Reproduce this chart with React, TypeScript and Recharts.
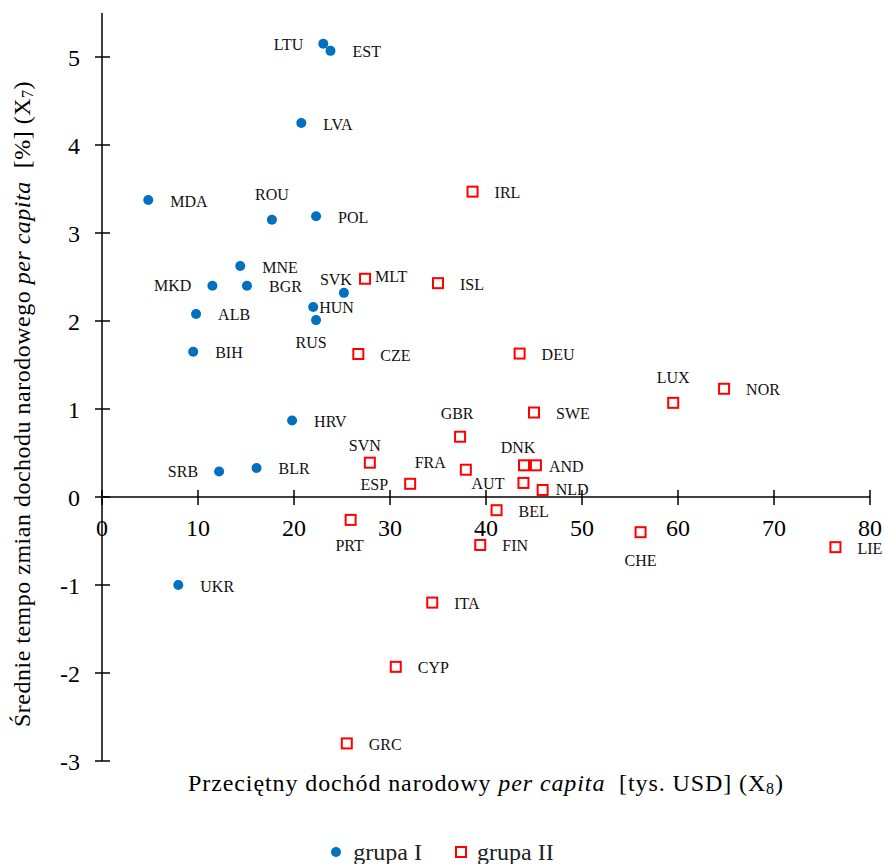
import { ScatterChart, Scatter, XAxis, YAxis, ReferenceLine, Legend } from 'recharts';

// grupa I (kraje Europy Środkowo-Wschodniej), x = dochód [tys. USD], y = tempo zmian [%]
const groupI = [
  { code: 'LTU', x: 23.05, y: 5.15 },
  { code: 'EST', x: 23.8, y: 5.07 },
  { code: 'LVA', x: 20.76, y: 4.25 },
  { code: 'MDA', x: 4.82, y: 3.375 },
  { code: 'ROU', x: 17.7, y: 3.15 },
  { code: 'POL', x: 22.3, y: 3.19 },
  { code: 'MNE', x: 14.4, y: 2.625 },
  { code: 'MKD', x: 11.5, y: 2.4 },
  { code: 'BGR', x: 15.1, y: 2.4 },
  { code: 'SVK', x: 25.2, y: 2.32 },
  { code: 'HUN', x: 22.0, y: 2.16 },
  { code: 'RUS', x: 22.3, y: 2.01 },
  { code: 'ALB', x: 9.8, y: 2.08 },
  { code: 'BIH', x: 9.5, y: 1.65 },
  { code: 'HRV', x: 19.8, y: 0.87 },
  { code: 'SRB', x: 12.2, y: 0.29 },
  { code: 'BLR', x: 16.1, y: 0.33 },
  { code: 'UKR', x: 7.95, y: -1.0 },
];

const groupII = [
  { code: 'IRL', x: 38.6, y: 3.47 },
  { code: 'MLT', x: 27.4, y: 2.48 },
  { code: 'ISL', x: 35.0, y: 2.43 },
  { code: 'CZE', x: 26.7, y: 1.625 },
  { code: 'DEU', x: 43.5, y: 1.63 },
  { code: 'LUX', x: 59.5, y: 1.07 },
  { code: 'NOR', x: 64.8, y: 1.23 },
  { code: 'SWE', x: 45.0, y: 0.96 },
  { code: 'GBR', x: 37.3, y: 0.685 },
  { code: 'SVN', x: 27.9, y: 0.39 },
  { code: 'FRA', x: 37.9, y: 0.31 },
  { code: 'DNK', x: 43.96, y: 0.36 },
  { code: 'AND', x: 45.2, y: 0.36 },
  { code: 'ESP', x: 32.1, y: 0.15 },
  { code: 'AUT', x: 43.9, y: 0.16 },
  { code: 'NLD', x: 45.9, y: 0.08 },
  { code: 'BEL', x: 41.1, y: -0.15 },
  { code: 'PRT', x: 25.9, y: -0.26 },
  { code: 'FIN', x: 39.4, y: -0.545 },
  { code: 'CHE', x: 56.1, y: -0.4 },
  { code: 'LIE', x: 76.4, y: -0.57 },
  { code: 'ITA', x: 34.4, y: -1.2 },
  { code: 'CYP', x: 30.6, y: -1.93 },
  { code: 'GRC', x: 25.5, y: -2.8 },
];

const xTicks = [0, 10, 20, 30, 40, 50, 60, 70, 80];
const yTicks = [-3, -2, -1, 0, 1, 2, 3, 4, 5];

const X_MIN = 0;
const X_MAX = 80;
const Y_MIN = -3;
const Y_MAX = 5.5;

// label offsets [dx, dy, anchor] relative to the marker centre
const labelPos: Record<string, [number, number, 'start' | 'middle' | 'end']> = {
  LTU: [-20, 1, 'end'],
  ROU: [0, -25, 'middle'],
  MKD: [-21, 0, 'end'],
  SVK: [8, -13, 'end'],
  HUN: [6, 1, 'start'],
  RUS: [-5, 22, 'middle'],
  SRB: [-21, 0, 'end'],
  MLT: [10, -2, 'start'],
  LUX: [0, -25, 'middle'],
  GBR: [-3, -23, 'middle'],
  SVN: [-5, -17, 'middle'],
  FRA: [-20, -7, 'end'],
  DNK: [-6, -18, 'middle'],
  AND: [13, 1, 'start'],
  ESP: [-22, 1, 'end'],
  AUT: [-19, 1, 'end'],
  NLD: [13, 0, 'start'],
  PRT: [-1, 26, 'middle'],
  CHE: [0, 28, 'middle'],
};

const FONT = '"Liberation Serif", Tinos, "Times New Roman", Times, "DejaVu Serif", "Noto Serif", serif';
const BLUE = '#0070C0';
const RED = '#FF0000';

const W = 885;
const H = 864;
const MARGIN = { top: 13, right: 15, left: 42, bottom: 49 };
const Y_AXIS_W = 60;
const X_AXIS_H = 30;
const LEGEND_H = 24;
const PLOT_H = H - MARGIN.top - MARGIN.bottom - X_AXIS_H - LEGEND_H;
const ZERO_SHIFT = (PLOT_H * (0 - Y_MIN)) / (Y_MAX - Y_MIN);

const PointLabel = ({ cx, cy, code }: { cx: number; cy: number; code: string }) => {
  const [dx, dy, anchor] = labelPos[code] || [22, 1, 'start'];
  return (
    <text
      x={cx + dx}
      y={cy + dy}
      textAnchor={anchor}
      dominantBaseline="central"
      style={{ fontFamily: FONT }}
      fontSize={16}
      fill="#111"
    >
      {code}
    </text>
  );
};

// eslint-disable-next-line @typescript-eslint/no-explicit-any
const Dot = (props: any) => (
  <g>
    <circle cx={props.cx} cy={props.cy} r={5} fill={BLUE} />
    <PointLabel cx={props.cx} cy={props.cy} code={props.payload.code} />
  </g>
);

// eslint-disable-next-line @typescript-eslint/no-explicit-any
const Square = (props: any) => (
  <g>
    <rect x={props.cx - 5} y={props.cy - 5} width={10} height={10} fill="#fff" stroke={RED} strokeWidth={2} />
    <PointLabel cx={props.cx} cy={props.cy} code={props.payload.code} />
  </g>
);

// eslint-disable-next-line @typescript-eslint/no-explicit-any
const XTick = ({ x, y, payload }: any) => {
  const y0 = y - ZERO_SHIFT;
  return (
    <g>
      <line x1={x} x2={x} y1={y0 - 7} y2={y0 + 8} stroke="#000" strokeWidth={1.5} />
      <text x={x} y={y0 + 31} textAnchor="middle" dominantBaseline="central" style={{ fontFamily: FONT }} fontSize={24} fill="#000">
        {payload.value}
      </text>
    </g>
  );
};

// eslint-disable-next-line @typescript-eslint/no-explicit-any
const YTick = ({ x, y, payload }: any) => (
  <g>
    <line x1={x - 7} x2={x + 8} y1={y} y2={y} stroke="#000" strokeWidth={1.5} />
    <text x={x - 22} y={y + 1} textAnchor="end" dominantBaseline="central" style={{ fontFamily: FONT }} fontSize={24} fill="#000">
      {payload.value}
    </text>
  </g>
);

// eslint-disable-next-line @typescript-eslint/no-explicit-any
const XTitle = ({ viewBox }: any) => (
  <text
    x={viewBox.x + viewBox.width / 2}
    y={viewBox.y + 22}
    textAnchor="middle"
    dominantBaseline="central"
    fontSize={24}
    fill="#000"
    style={{ whiteSpace: 'pre', fontFamily: FONT, letterSpacing: 0.9 }}
  >
    Przeciętny dochód narodowy <tspan fontStyle="italic">per capita</tspan>
    {'  [tys. USD] (X'}
    <tspan dy={5} fontSize={16}>8</tspan>
    <tspan dy={-5}>)</tspan>
  </text>
);

// eslint-disable-next-line @typescript-eslint/no-explicit-any
const YTitle = ({ viewBox }: any) => {
  const cx = viewBox.x - 20;
  const cy = viewBox.y + viewBox.height / 2 + 17;
  return (
    <text
      x={cx}
      y={cy}
      transform={`rotate(-90, ${cx}, ${cy})`}
      textAnchor="middle"
      dominantBaseline="central"
      fontSize={24}
      fill="#000"
      style={{ whiteSpace: 'pre', fontFamily: FONT, letterSpacing: 0.5 }}
    >
      Średnie tempo zmian dochodu narodowego <tspan fontStyle="italic">per capita</tspan>
      {'  [%] (X'}
      <tspan dy={5} fontSize={16}>7</tspan>
      <tspan dy={-5}>)</tspan>
    </text>
  );
};

const LegendContent = () => (
  <div
    style={{
      height: LEGEND_H,
      display: 'flex',
      justifyContent: 'center',
      alignItems: 'center',
      fontFamily: FONT,
      fontSize: 24,
      color: '#222',
    }}
  >
    <svg width={10} height={10}>
      <circle cx={5} cy={5} r={5} fill={BLUE} />
    </svg>
    <span style={{ marginLeft: 12 }}>grupa I</span>
    <svg width={12} height={12} style={{ marginLeft: 33 }}>
      <rect x={1} y={1} width={10} height={10} fill="#fff" stroke={RED} strokeWidth={2} />
    </svg>
    <span style={{ marginLeft: 10 }}>grupa II</span>
  </div>
);

export default function App() {
  return (
    <div style={{ width: W, height: H, background: '#fff', position: 'relative', fontFamily: FONT }}>
      <style>{'body{margin:0;}'}</style>
      <ScatterChart width={W} height={H} margin={MARGIN}>
        <XAxis
          type="number"
          dataKey="x"
          domain={[X_MIN, X_MAX]}
          ticks={xTicks}
          interval={0}
          axisLine={false}
          tickLine={false}
          tickSize={0}
          tickMargin={0}
          height={X_AXIS_H}
          tick={<XTick />}
          label={<XTitle />}
        />
        <YAxis
          type="number"
          dataKey="y"
          domain={[Y_MIN, Y_MAX]}
          ticks={yTicks}
          interval={0}
          width={Y_AXIS_W}
          axisLine={{ stroke: '#000', strokeWidth: 1.5 }}
          tickLine={false}
          tickSize={0}
          tickMargin={0}
          tick={<YTick />}
          label={<YTitle />}
        />
        <ReferenceLine y={0} stroke="#000" strokeWidth={1.5} />
        <Scatter name="grupa I" data={groupI} shape={Dot} isAnimationActive={false} />
        <Scatter name="grupa II" data={groupII} shape={Square} isAnimationActive={false} />
        <Legend
          verticalAlign="bottom"
          content={<LegendContent />}
          wrapperStyle={{ left: 0, width: W, top: 840 }}
        />
      </ScatterChart>
    </div>
  );
}
